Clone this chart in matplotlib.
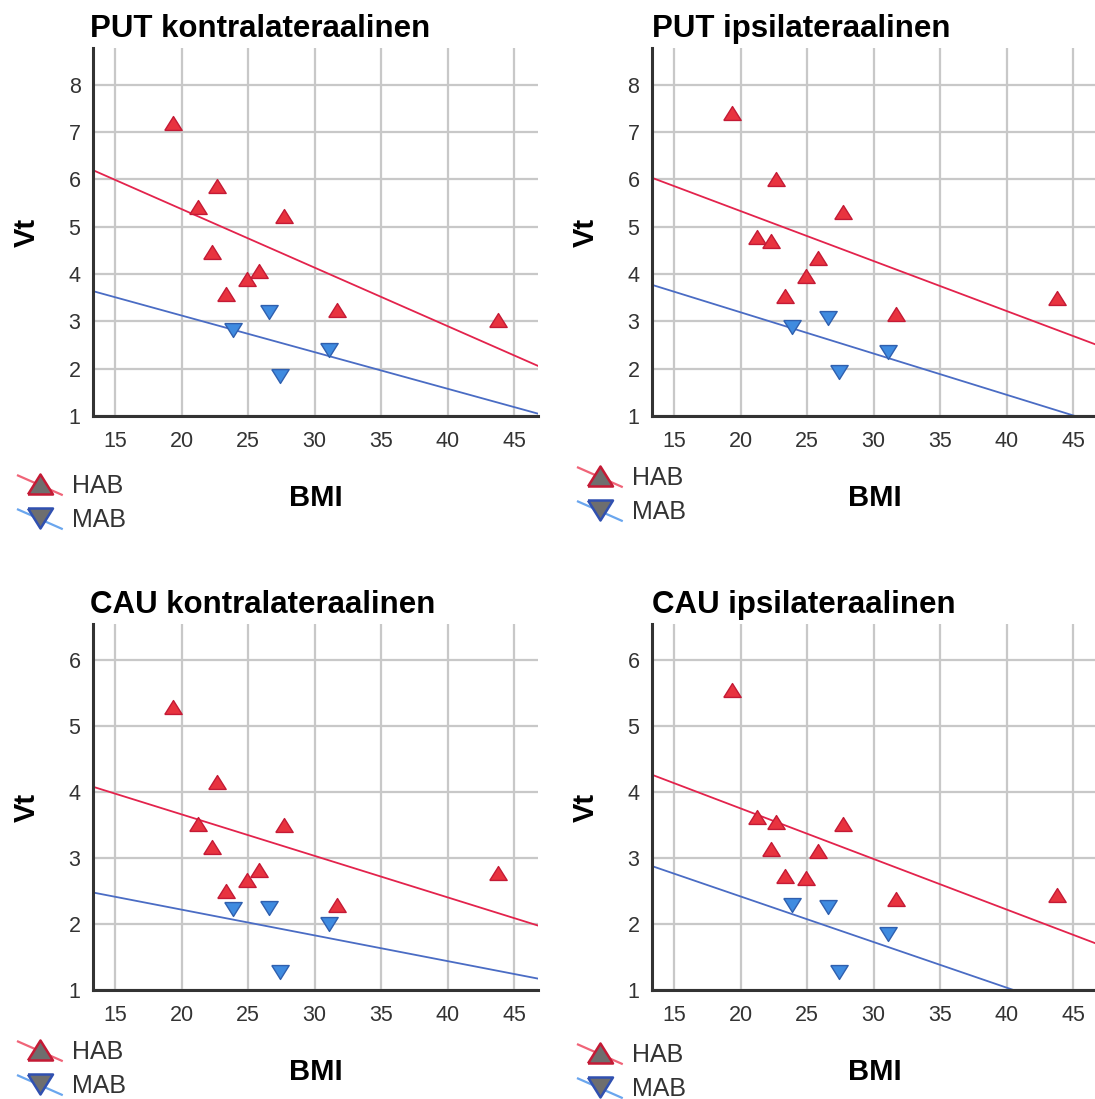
import numpy as np
import matplotlib
matplotlib.use("Agg")
import matplotlib.pyplot as plt
from matplotlib.lines import Line2D
from matplotlib.legend_handler import HandlerBase

plt.rcParams['font.family'] = ['Liberation Sans', 'DejaVu Sans']

# --- data ---
bmi_hab = [19.35, 21.2, 22.7, 22.3, 23.35, 24.9, 25.8, 27.7, 31.7, 43.8]
bmi_mab = [23.9, 26.55, 27.4, 31.05]

titles = ['PUT kontralateraalinen', 'PUT ipsilateraalinen',
          'CAU kontralateraalinen', 'CAU ipsilateraalinen']

vt_hab_put_contra = [7.20, 5.41, 5.87, 4.47, 3.57, 3.89, 4.06, 5.22, 3.25, 3.03]
vt_mab_put_contra = [2.82, 3.19, 1.85, 2.40]
vt_hab_put_ipsi = [7.40, 4.78, 6.01, 4.70, 3.53, 3.97, 4.33, 5.31, 3.16, 3.50]
vt_mab_put_ipsi = [2.88, 3.07, 1.94, 2.36]
vt_hab_cau_contra = [5.28, 3.51, 4.15, 3.17, 2.50, 2.67, 2.81, 3.49, 2.29, 2.77]
vt_mab_cau_contra = [2.22, 2.24, 1.28, 2.00]
vt_hab_cau_ipsi = [5.54, 3.62, 3.54, 3.13, 2.73, 2.70, 3.10, 3.51, 2.37, 2.44]
vt_mab_cau_ipsi = [2.28, 2.26, 1.28, 1.85]

hab_series = [vt_hab_put_contra, vt_hab_put_ipsi, vt_hab_cau_contra, vt_hab_cau_ipsi]
mab_series = [vt_mab_put_contra, vt_mab_put_ipsi, vt_mab_cau_contra, vt_mab_cau_ipsi]

xticks = [15, 20, 25, 30, 35, 40, 45]
yticks_put = [1, 2, 3, 4, 5, 6, 7, 8]
yticks_cau = [1, 2, 3, 4, 5, 6]
group_labels = ['HAB', 'MAB']

# --- styling ---
RED_FILL, RED_EDGE, RED_LINE = '#e8333f', '#c41a35', '#e3234c'
BLUE_FILL, BLUE_EDGE, BLUE_LINE = '#3f8be0', '#2f5fae', '#4a6cc4'
GRID = '#c8c8c8'
DARK = '#333333'

up_tri = [(-1, -0.8), (1, -0.8), (0, 0.8), (-1, -0.8)]
down_tri = [(-1, 0.8), (1, 0.8), (0, -0.8), (-1, 0.8)]

W, H = 1095, 1099
fig = plt.figure(figsize=(W / 100, H / 100), dpi=100)

# axes boxes in pixels: left, top, width, height
boxes = [(93, 48, 445, 368), (652, 48, 445, 368),
         (93, 624, 445, 366), (652, 624, 445, 366)]
ylims = [(1, 8.78), (1, 8.78), (1, 6.54), (1, 6.54)]
yticks_all = [yticks_put, yticks_put, yticks_cau, yticks_cau]
legend_anchor = [(18, 503), (578, 495), (18, 1069), (578, 1072)]
xlim = (13.34, 46.8)


class SlantHandler(HandlerBase):
    # SPSS-style legend key: slanted fit line with a grey marker on top
    def __init__(self, line_color, marker, face, edge):
        super().__init__()
        self.line_color = line_color
        self.marker = marker
        self.face = face
        self.edge = edge

    def create_artists(self, legend, orig_handle, xdescent, ydescent,
                       width, height, fontsize, trans):
        x0, x1 = -xdescent, width - xdescent
        yc = height / 2 - ydescent
        ln = Line2D([x0, x1], [yc + 0.5 * height, yc - 0.6 * height],
                    color=self.line_color, lw=1.6, transform=trans)
        mk = Line2D([(x0 + x1) / 2], [yc], marker=self.marker, ls='none',
                    markersize=18, markerfacecolor=self.face,
                    markeredgecolor=self.edge, markeredgewidth=1.8,
                    transform=trans)
        return [ln, mk]


for i in range(4):
    l, t, w, h = boxes[i]
    ax = fig.add_axes([l / W, 1 - (t + h) / H, w / W, h / H])
    hab = hab_series[i]
    mab = mab_series[i]

    # fit lines
    xs = np.array(xlim)
    k1, b1 = np.polyfit(bmi_hab, hab, 1)
    k2, b2 = np.polyfit(bmi_mab, mab, 1)
    ax.plot(xs, k1 * xs + b1, color=RED_LINE, lw=1.3, zorder=2)
    ax.plot(xs, k2 * xs + b2, color=BLUE_LINE, lw=1.3, zorder=2)

    ax.plot(bmi_hab, hab, ls='none', marker=up_tri, markersize=12.5,
            markerfacecolor=RED_FILL, markeredgecolor=RED_EDGE,
            markeredgewidth=1.0, zorder=3)
    ax.plot(bmi_mab, mab, ls='none', marker=down_tri, markersize=12.5,
            markerfacecolor=BLUE_FILL, markeredgecolor=BLUE_EDGE,
            markeredgewidth=1.0, zorder=3)

    ax.set_xlim(*xlim)
    ax.set_ylim(*ylims[i])
    ax.set_xticks(xticks)
    ax.set_yticks(yticks_all[i])
    ax.grid(True, color=GRID, lw=1.6)
    ax.set_axisbelow(True)
    for s in ['top', 'right']:
        ax.spines[s].set_visible(False)
    for s in ['left', 'bottom']:
        ax.spines[s].set_color(DARK)
        ax.spines[s].set_linewidth(2.2)
    ax.tick_params(length=0, labelsize=15.5, labelcolor=DARK)
    ax.tick_params(axis='x', pad=11)
    ax.tick_params(axis='y', pad=9)

    ax.set_title(titles[i], loc='left', fontsize=22.5, fontweight='bold',
                 pad=8, x=-0.007 if i % 2 == 0 else 0.0)
    ax.set_xlabel('BMI', fontsize=21, fontweight='bold')
    ax.set_ylabel('Vt', fontsize=21, fontweight='bold')
    ax.xaxis.set_label_coords(0.5 if i % 2 == 0 else 0.501, -82 / h)
    ax.xaxis.label.set_va('center')
    ax.yaxis.set_label_coords(-66 / w, 0.5)
    ax.yaxis.label.set_va('center')

    hx, hy = legend_anchor[i]
    h1 = Line2D([], [], color=RED_LINE)
    h2 = Line2D([], [], color=BLUE_LINE)
    ax.legend([h1, h2], group_labels, loc='center left',
              bbox_to_anchor=(hx / W, 1 - hy / H),
              bbox_transform=fig.transFigure, frameon=False,
              fontsize=18, labelcolor=DARK, borderpad=0, borderaxespad=0,
              handlelength=1.75, handletextpad=0.4, labelspacing=0.4,
              handler_map={h1: SlantHandler('#f06478', up_tri, '#6e6e6e', RED_EDGE),
                           h2: SlantHandler('#6aa6ee', down_tri, '#6e6e6e', '#3050b0')})

fig.savefig('out.png', dpi=100)
